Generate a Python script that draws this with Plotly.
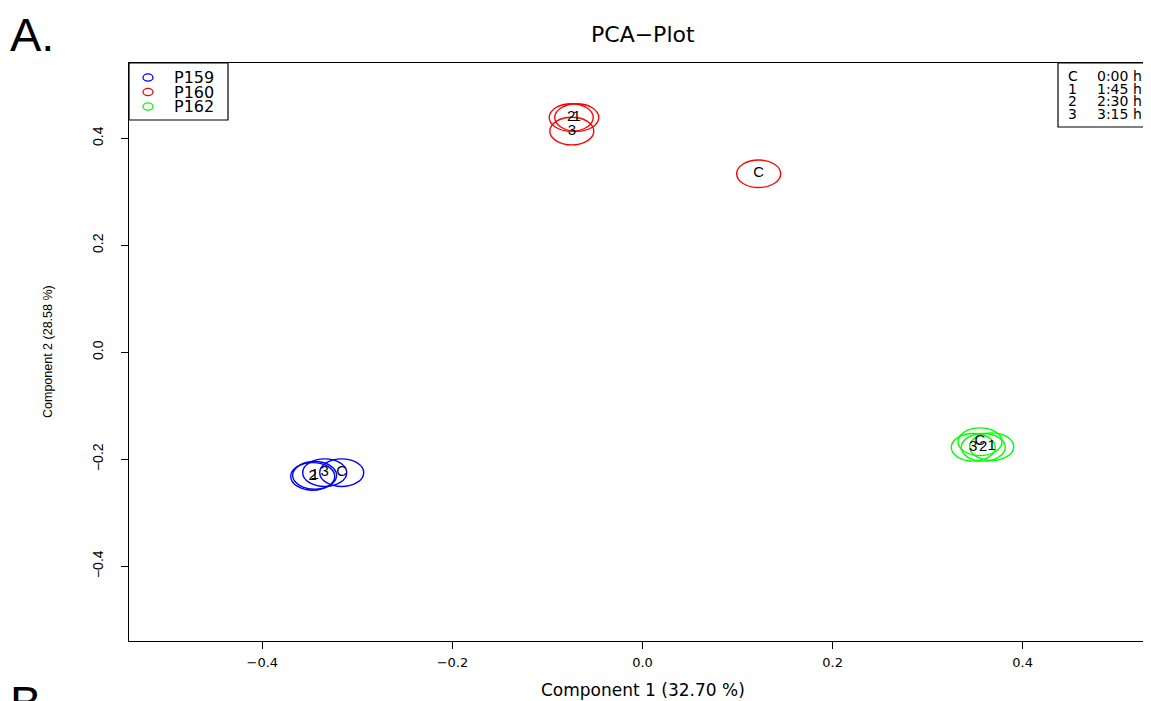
import plotly.graph_objects as go

# ---- data ----
groups = ["P159", "P160", "P162"]
group_colors = ["#0000FF", "#FF0000", "#00FF00"]
time_codes = ["C", "1", "2", "3"]
time_text = ["0:00 h", "1:45 h", "2:30 h", "3:15 h"]

pc1_P159 = [-0.3165, -0.3450, -0.3470, -0.3344]
pc2_P159 = [-0.2250, -0.2300, -0.2320, -0.2250]
pc1_P160 = [0.1222, -0.0692, -0.0750, -0.0744]
pc2_P160 = [0.3338, 0.4389, 0.4389, 0.4136]
pc1_P162 = [0.3551, 0.3674, 0.3585, 0.3480]
pc2_P162 = [-0.1671, -0.1764, -0.1776, -0.1776]

x_ticks = [-0.4, -0.2, 0.0, 0.2, 0.4]
y_ticks = [-0.4, -0.2, 0.0, 0.2, 0.4]
x_title = "Component 1 (32.70 %)"
y_title = "Component 2 (28.58 %)"
plot_title = "PCA\u2212Plot"

pc1 = [pc1_P159, pc1_P160, pc1_P162]
pc2 = [pc2_P159, pc2_P160, pc2_P162]

# ---- layout geometry (pixels). The page body has an 8px margin. ----
OFF = 8
W, H = 1151 - OFF, 701 - OFF
ML, MR, MT, MB = 121, 0, 55, 60
PW, PH = W - ML - MR, H - MT - MB


def px_x(p):  # page pixel -> paper
    return (p - OFF - ML) / PW


def px_y(p):
    return (H - MB - (p - OFF)) / PH


fig = go.Figure()
shapes = []

# circles around each sample (drawn as ellipses, like the stretched original)
for g, col, xs, ys in zip(groups, group_colors, pc1, pc2):
    for xv, yv in zip(xs, ys):
        shapes.append(dict(
            type="circle", xref="x", yref="y",
            xsizemode="pixel", ysizemode="pixel",
            xanchor=xv, yanchor=yv,
            x0=-22, x1=22, y0=-13.8, y1=13.8,
            line=dict(color=col, width=1.4),
            layer="below",
        ))

# time-point labels
for g, xs, ys in zip(groups, pc1, pc2):
    fig.add_trace(go.Scatter(
        x=xs, y=ys, mode="text", text=time_codes,
        textposition="middle center",
        textfont=dict(family="Liberation Sans, Arial", size=15, color="black"),
        showlegend=False, hoverinfo="skip", cliponaxis=False,
    ))

annotations = [
    dict(text="A.", x=px_x(8), y=px_y(34), xanchor="left", yanchor="middle",
         font=dict(family="Liberation Sans, Arial", size=47, color="black")),
    dict(text="B", x=px_x(8), y=px_y(702), xanchor="left", yanchor="middle",
         font=dict(family="Liberation Sans, Arial", size=47, color="black")),
    dict(text=plot_title, x=px_x(643), y=px_y(34), xanchor="center", yanchor="middle",
         font=dict(family="DejaVu Sans", size=22, color="black")),
    dict(text=x_title, x=px_x(643), y=px_y(690), xanchor="center", yanchor="middle",
         font=dict(family="DejaVu Sans", size=17, color="black")),
    dict(text=y_title, x=px_x(48), y=px_y(352), xanchor="center", yanchor="middle",
         textangle=-90,
         font=dict(family="Liberation Sans, Arial", size=12.5, color="black")),
]

# group legend, top left (box, open-circle keys, labels)
shapes.append(dict(type="rect", xref="paper", yref="paper",
                   x0=0, x1=px_x(228), y0=px_y(120), y1=1.0,
                   line=dict(color="black", width=1.2), fillcolor="white", layer="above"))
for i, (g, col) in enumerate(zip(groups, group_colors)):
    ry = 77.5 + 14.5 * i
    shapes.append(dict(type="circle", xref="paper", yref="paper",
                       xsizemode="pixel", ysizemode="pixel",
                       xanchor=px_x(148), yanchor=px_y(ry),
                       x0=-5, x1=5, y0=-3.6, y1=3.6,
                       line=dict(color=col, width=1.3), layer="above"))
    annotations.append(dict(text=g, x=px_x(172), y=px_y(ry), xanchor="left", yanchor="middle",
                            font=dict(family="DejaVu Sans", size=16, color="black")))

# time legend, top right
shapes.append(dict(type="rect", xref="paper", yref="paper",
                   x0=px_x(1058), x1=px_x(1165), y0=px_y(127), y1=1.0,
                   line=dict(color="black", width=1.2), fillcolor="white", layer="above"))
for i, (code, t) in enumerate(zip(time_codes, time_text)):
    ry = 76 + 12.6 * i
    annotations.append(dict(text=code, x=px_x(1066), y=px_y(ry), xanchor="left", yanchor="middle",
                            font=dict(family="DejaVu Sans", size=14, color="black")))
    annotations.append(dict(text=t, x=px_x(1095), y=px_y(ry), xanchor="left", yanchor="middle",
                            font=dict(family="DejaVu Sans", size=14, color="black")))

for a in annotations:
    a.update(xref="paper", yref="paper", showarrow=False)

fig.update_layout(
    width=W, height=H,
    margin=dict(l=ML, r=MR, t=MT, b=MB, pad=0),
    paper_bgcolor="white", plot_bgcolor="white",
    shapes=shapes, annotations=annotations,
    showlegend=False,
    xaxis=dict(range=[-0.5403, 0.535], tickvals=x_ticks, tickformat=".1f",
               showgrid=False, zeroline=False, showline=True, linecolor="black",
               linewidth=1.2, mirror=True, ticks="outside", ticklen=7,
               tickcolor="black", tickwidth=1, ticklabelstandoff=2,
               tickfont=dict(family="DejaVu Sans", size=13, color="black")),
    yaxis=dict(range=[-0.5396, 0.5408], tickvals=y_ticks, tickformat=".1f",
               showgrid=False, zeroline=False, showline=True, linecolor="black",
               linewidth=1.2, mirror=False, ticks="outside", ticklen=7,
               tickcolor="black", tickwidth=1, tickangle=-90, ticklabelstandoff=12,
               tickfont=dict(family="Liberation Sans, Arial", size=14, color="black")),
)

fig.write_html("out.html")
